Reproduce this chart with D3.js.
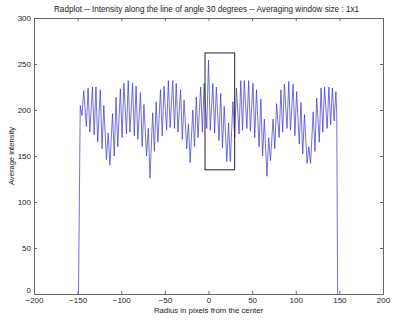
<!DOCTYPE html>
<html>
<head>
<meta charset="utf-8">
<script src="https://cdn.jsdelivr.net/npm/d3@7"></script>
<style>
  body { margin: 0; background: #fff; }
  text { font-family: "Liberation Sans", Arial, sans-serif; fill: #222; }
</style>
</head>
<body>
<div class="container"></div>
<script>
const width = 400;
const height = 320;

const title = 'Radplot -- Intensity along the line of angle 30 degrees -- Averaging window size : 1x1';
const xLabel = 'Radius in pixels from the center';
const yLabel = 'Average intensity';

const xTicks = [-200, -150, -100, -50, 0, 50, 100, 150, 200];
const yTicks = [0, 50, 100, 150, 200, 250, 300];

// peaks and troughs of the profile
const radius = [
  -149, -148, -147, -145, -143, -140, -138, -136, -133, -131, -129, -127, -124, -122, -120, -117,
  -115, -113, -110, -108, -106, -104, -101, -99, -97, -94, -92, -90, -87, -85, -83, -81,
  -78, -76, -74, -71, -69, -67, -64, -62, -60, -58, -55, -53, -51, -48, -46, -44,
  -41, -39, -37, -35, -32, -30, -28, -25, -23, -21, -18, -16, -14, -12, -9, -7,
  -5, -2, 0, 2, 5, 7, 9, 12, 14, 16, 18, 21, 23, 25, 28, 30,
  32, 35, 37, 39, 41, 44, 46, 48, 51, 53, 55, 58, 60, 62, 64, 67,
  69, 71, 74, 76, 78, 81, 83, 85, 87, 90, 92, 94, 97, 99, 101, 104,
  106, 108, 110, 113, 115, 117, 120, 122, 124, 127, 129, 131, 133, 136, 138, 140,
  142, 144, 146, 147, 148
];
const intensity = [
  0, 103, 205, 194, 221, 182, 224, 176, 225, 173, 225, 165, 222, 158, 205, 146,
  175, 140, 196, 150, 214, 160, 223, 170, 229, 174, 232, 176, 229, 172, 226, 168,
  219, 160, 206, 150, 180, 126, 197, 155, 209, 165, 222, 172, 226, 178, 232, 181,
  232, 180, 229, 176, 222, 168, 211, 158, 185, 143, 200, 160, 214, 170, 225, 176,
  229, 180, 254, 178, 229, 175, 225, 167, 218, 159, 204, 144, 186, 144, 209, 170,
  224, 174, 232, 178, 232, 180, 232, 177, 229, 170, 222, 160, 212, 150, 190, 128,
  170, 145, 190, 158, 207, 170, 222, 176, 228, 180, 231, 178, 228, 172, 220, 163,
  208, 152, 195, 142, 160, 142, 198, 155, 213, 165, 224, 176, 225, 180, 225, 184,
  224, 188, 220, 195, 0
];

// the marked region
const boxRadius = [-4, 30];
const boxIntensity = [135, 262];

const margin = { top: 18, right: 17, bottom: 26, left: 34 };
const innerW = width - margin.left - margin.right;
const innerH = height - margin.top - margin.bottom;

const x = d3.scaleLinear().domain([-200, 200]).range([0, innerW]);
const y = d3.scaleLinear().domain([0, 300]).range([innerH, 0]);

const svg = d3.select('.container')
  .append('svg')
  .attr('width', width)
  .attr('height', height);

svg.append('text')
  .attr('x', margin.left + innerW / 2 - 2)
  .attr('y', 12)
  .attr('text-anchor', 'middle')
  .attr('textLength', 305)
  .attr('lengthAdjust', 'spacingAndGlyphs')
  .style('font-size', '8.2px')
  .text(title);

const g = svg.append('g')
  .attr('transform', `translate(${margin.left}, ${margin.top})`);

// line
const line = d3.line()
  .x((d, i) => x(radius[i]))
  .y(d => y(d));

g.append('path')
  .datum(intensity)
  .attr('d', line)
  .attr('fill', 'none')
  .attr('stroke', '#3434dc')
  .attr('stroke-width', 0.7);

// box
g.append('rect')
  .attr('x', x(boxRadius[0]))
  .attr('y', y(boxIntensity[1]))
  .attr('width', x(boxRadius[1]) - x(boxRadius[0]))
  .attr('height', y(boxIntensity[0]) - y(boxIntensity[1]))
  .attr('fill', 'none')
  .attr('stroke', '#222')
  .attr('stroke-width', 1);

// axes, matlab style: ticks inside on all four sides
const tickLen = 3;
const axisStyle = sel => {
  sel.select('.domain').attr('stroke', '#666');
  sel.selectAll('.tick line').attr('stroke', '#666');
  sel.selectAll('.tick text')
    .style('font-size', '8px')
    .attr('fill', '#222');
};

g.append('g')
  .attr('transform', `translate(0, ${innerH})`)
  .call(d3.axisBottom(x).tickValues(xTicks).tickSize(-tickLen).tickSizeOuter(0).tickPadding(3))
  .call(axisStyle);

g.append('g')
  .call(d3.axisTop(x).tickValues(xTicks).tickSize(-tickLen).tickSizeOuter(0).tickFormat(''))
  .call(axisStyle);

const yAxis = g.append('g')
  .call(d3.axisLeft(y).tickValues(yTicks).tickSize(-tickLen).tickSizeOuter(0).tickPadding(3))
  .call(axisStyle);

// lift the y "0" a little so it clears the "-200"
yAxis.selectAll('.tick text')
  .filter(d => d === 0)
  .attr('dy', '-0.2em');

g.append('g')
  .attr('transform', `translate(${innerW}, 0)`)
  .call(d3.axisRight(y).tickValues(yTicks).tickSize(-tickLen).tickSizeOuter(0).tickFormat(''))
  .call(axisStyle);

svg.append('text')
  .attr('x', margin.left + innerW / 2)
  .attr('y', 313)
  .attr('text-anchor', 'middle')
  .style('font-size', '7.8px')
  .text(xLabel);

svg.append('text')
  .attr('transform', `translate(14, ${margin.top + innerH / 2}) rotate(-90)`)
  .attr('text-anchor', 'middle')
  .style('font-size', '7.6px')
  .text(yLabel);
</script>
</body>
</html>
